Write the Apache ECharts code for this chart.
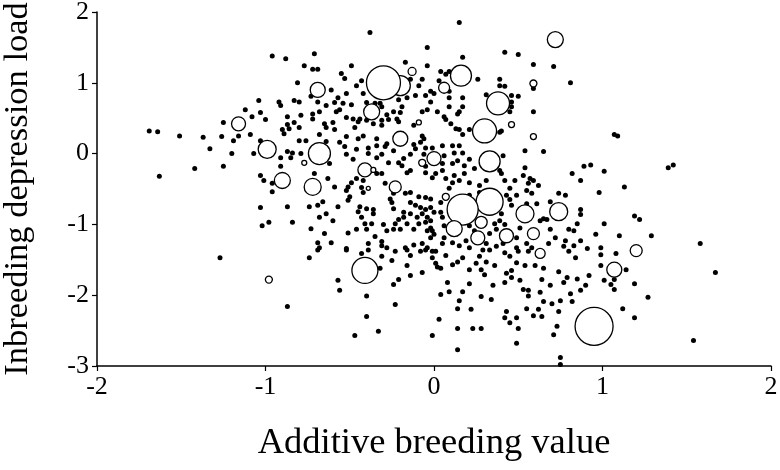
<!DOCTYPE html>
<html>
<head>
<meta charset="utf-8">
<title>Inbreeding depression load vs additive breeding value</title>
<script src="https://cdn.jsdelivr.net/npm/echarts@6/dist/echarts.min.js"></script>
<style>
  html, body { margin: 0; padding: 0; background: #fff; }
  #chart { width: 780px; height: 470px; }
</style>
</head>
<body>
<div id="chart"></div>
<script>
// individual animals: [additive breeding value, inbreeding depression load]
const dotPoints = [
  [-1.04,0.75],[-1.12,0.62],[-1.03,0.58],[-1.08,0.52],[-1.25,0.44],[-1.00,0.48],[-1.69,0.32],[-1.64,0.31],
  [-1.51,0.25],[-1.37,0.23],[-1.26,0.24],[-1.16,0.25],[-1.09,0.27],[-1.19,0.18],[-1.03,0.18],[-1.33,0.07],
  [-1.20,0.00],[-1.07,0.00],[-1.42,-0.21],[-1.25,-0.18],[-1.63,-0.32],[-1.03,-0.31],[-1.01,-0.38],[-1.03,-0.76],
  [-1.02,-1.02],[-1.27,-1.47],
  [-0.38,1.71],[-0.96,1.38],[-0.88,1.34],[-0.71,1.41],[-0.04,1.50],[-0.77,1.24],[-0.72,1.19],[-0.69,1.19],
  [-0.49,1.24],[-0.17,1.29],[-0.04,1.24],[-0.55,1.13],[-0.53,1.06],[-0.81,1.00],[-0.46,0.96],[-0.43,1.03],
  [-0.61,0.90],[-0.52,0.85],[-0.57,0.79],[-0.59,0.72],[-0.54,0.71],[-0.49,0.69],[-0.42,0.85],[-0.40,0.72],
  [-0.35,0.71],[-0.32,0.71],[-0.31,0.66],[-0.92,0.73],[-0.91,0.68],[-0.83,0.75],[-0.80,0.73],[-0.73,0.81],
  [-0.69,0.73],[-0.64,0.68],[-0.58,0.59],[-0.56,0.62],[-0.68,0.59],[-0.72,0.56],[-0.79,0.54],[-0.87,0.52],
  [-0.83,0.44],[-0.87,0.41],[-0.72,0.49],[-0.65,0.42],[-0.60,0.44],[-0.52,0.51],[-0.48,0.49],[-0.44,0.49],
  [-0.40,0.47],[-0.36,0.42],[-0.31,0.47],[-0.28,0.55],[-0.24,0.59],[-0.27,0.48],[-0.22,0.49],[-0.20,0.58],
  [-0.19,0.66],[-0.21,0.76],[-0.16,0.79],[-0.11,0.82],[-0.07,0.59],[-0.04,0.62],[-0.05,0.82],[-0.02,0.88],
  [0.00,0.85],[-0.02,0.73],[-0.14,1.05],[-0.09,0.96],[-0.07,1.05],[-0.90,0.34],[-0.86,0.35],[-0.80,0.37],
  [-0.64,0.37],[-0.59,0.34],[-0.47,0.37],[-0.45,0.45],[-0.31,0.40],[-0.21,0.45],[-0.12,0.40],
  [0.15,1.85],[0.17,1.36],[0.42,1.43],[0.50,1.40],[0.59,1.26],[0.71,1.23],[0.81,1.00],[0.26,1.05],
  [0.39,1.05],[0.39,0.96],[0.42,0.95],[0.31,0.83],[0.46,0.82],[0.50,0.81],[0.46,0.73],[0.46,0.66],
  [0.45,0.59],[0.59,0.59],[0.59,0.92],[0.04,1.16],[0.07,1.12],[0.09,1.16],[0.03,1.03],[0.09,0.88],
  [0.09,0.79],[0.17,0.79],[0.09,0.66],[0.17,0.66],[0.15,0.59],[0.14,0.56],[0.02,0.59],[0.06,0.52],
  [0.07,0.48],[0.10,0.42],[0.13,0.35],[0.15,0.34],[0.21,0.34],[0.40,0.32],
  [-0.89,0.28],[-0.68,0.27],[-0.52,0.24],[-0.45,0.21],[-0.42,0.25],[-0.34,0.21],[-0.28,0.14],[-0.80,0.18],
  [-0.76,0.18],[-0.64,0.17],[-0.56,0.16],[-0.53,0.10],[-0.46,0.06],[-0.39,0.08],[-0.34,0.11],[-0.29,0.10],
  [-0.24,0.04],[-0.12,0.13],[-0.08,0.16],[-0.07,0.25],[-0.06,0.21],[-0.05,0.08],[-0.11,0.07],[-0.14,-0.01],
  [-0.06,-0.01],[-0.01,0.08],[-0.87,0.03],[-0.84,0.01],[-0.79,0.00],[-0.85,-0.06],[-0.91,-0.06],[-0.91,-0.18],
  [-0.62,-0.14],[-0.52,-0.01],[-0.48,-0.08],[-0.39,0.00],[-0.34,-0.06],[-0.31,-0.01],[-0.27,-0.13],[-0.21,-0.13],
  [-0.18,-0.07],[-0.19,-0.17],[-0.16,-0.27],[-0.14,-0.24],[-0.05,-0.18],[-0.05,-0.27],[-0.01,-0.34],[0.01,-0.28],
  [-0.71,-0.28],[-0.63,-0.35],[-0.59,-0.47],[-0.96,-0.42],[-0.96,-0.54],[-0.49,-0.41],[-0.51,-0.47],[-0.52,-0.52],
  [-0.50,-0.61],[-0.51,-0.66],[-0.46,-0.35],[-0.43,-0.48],[-0.42,-0.55],[-0.42,-0.38],[-0.34,-0.28],[-0.31,-0.28],
  [-0.29,-0.42],[-0.24,-0.56],[-0.26,-0.64],[-0.25,-0.69],[-0.24,-0.78],[-0.17,-0.56],[-0.14,-0.55],[-0.09,-0.61],
  [-0.05,-0.62],[-0.02,-0.64],[-0.14,-0.69],[-0.11,-0.73],[-0.08,-0.76],[-0.05,-0.79],[-0.02,-0.76],[0.00,-0.83],
  [-0.66,-0.68],[-0.69,-0.73],[-0.74,-0.75],[-0.87,-0.75],[-0.57,-0.75],[-0.44,-0.75],[-0.45,-0.82],[-0.43,-0.90],
  [-0.40,-0.78],[-0.36,-0.79],[-0.36,-0.85],[-0.41,-0.99],[-0.37,-0.99],[-0.30,-1.00],[-0.28,-1.09],[-0.24,-1.07],
  [-0.23,-0.99],[-0.21,-0.93],[-0.18,-0.90],[-0.18,-0.83],[-0.14,-0.85],[-0.10,-0.90],[-0.07,-0.85],[-0.04,-0.90],
  [-0.02,-0.95],[-0.05,-0.97],[-0.02,-1.05],[-0.01,-1.09],[-0.09,-0.99],[-0.16,-0.99],[-0.20,-1.07],[-0.12,-1.07],
  [-0.68,-0.90],[-0.64,-0.85],[-0.60,-0.95],[-0.84,-0.97],[-0.98,-0.97],[-0.73,-1.06],[-0.51,-1.12],[-0.46,-1.07],
  [-0.40,-1.07],[-0.35,-1.17],[-0.31,-1.24],[-0.65,-1.13],[-0.61,-1.26],[-0.69,-1.26],[-0.68,-1.33],[-0.52,-1.34],
  [-0.39,-1.27],[-0.31,-1.30],[-0.28,-1.33],[-0.17,-1.33],[-0.12,-1.29],[-0.07,-1.27],[-0.04,-1.33],[-0.02,-1.19],
  [0.00,-1.14],[-0.04,-1.09],
  [0.05,0.11],[0.11,0.11],[0.15,0.11],[0.17,0.27],[0.39,0.30],[0.54,0.04],[0.65,0.03],[0.06,-0.03],
  [0.12,0.01],[0.17,0.01],[0.14,-0.10],[0.21,-0.08],[0.41,-0.03],[0.05,-0.14],[0.05,-0.24],[0.11,-0.14],
  [0.18,-0.17],[0.24,-0.21],[0.18,-0.28],[0.12,-0.31],[0.11,-0.41],[0.07,-0.35],[0.15,-0.38],[0.09,-0.49],
  [0.21,-0.41],[0.27,-0.45],[0.31,-0.38],[0.39,-0.24],[0.40,-0.28],[0.42,-0.38],[0.45,-0.49],[0.48,-0.38],
  [0.54,-0.20],[0.53,-0.31],[0.57,-0.35],[0.56,-0.42],[0.59,-0.38],[0.62,-0.45],[0.55,-0.52],[0.58,-0.56],
  [0.49,-0.59],[0.45,-0.65],[0.46,-0.73],[0.55,-0.71],[0.61,-0.71],[0.69,-0.68],[0.74,-0.56],[0.78,-0.59],
  [0.82,-0.28],[0.87,-0.38],[0.89,-0.18],[0.93,-0.16],[1.01,-0.25],[0.98,-0.55],[0.87,-0.79],[0.87,-0.86],
  [0.85,-0.99],[1.01,-0.99],[0.96,-1.14],[0.80,-1.07],[0.83,-1.09],[0.69,-1.07],[0.72,-1.19],[0.78,-1.23],
  [0.87,-1.23],[0.83,-1.30],[0.68,-1.27],[0.77,-1.31],[0.91,-1.34],[0.99,-1.33],[0.65,-0.92],[0.67,-0.93],
  [0.63,-0.95],[0.51,-1.05],[0.49,-1.19],[0.39,-0.95],[0.42,-1.00],[0.36,-0.99],[0.37,-1.07],[0.33,-1.13],
  [0.31,-1.27],[0.37,-1.31],[0.41,-1.27],[0.49,-1.33],[0.55,-1.27],[0.58,-1.33],[0.21,-1.02],[0.24,-1.09],
  [0.19,-1.23],[0.21,-1.33],[0.06,-1.02],[0.06,-1.19],[0.05,-1.27],[0.11,-1.26],[0.15,-1.30],[0.04,-0.83],
  [0.05,-0.90],[0.40,-0.85],[0.39,-0.76],[0.43,-0.59],[0.04,-0.69],[0.21,-0.59],[0.27,-0.55],
  [1.07,0.27],[1.09,0.25],[1.39,-0.20],[1.42,-0.16],[1.13,-0.47],[1.19,-0.88],[1.22,-0.93],[1.10,-1.16],
  [1.29,-1.16],[1.58,-1.27],
  [-0.74,-1.47],[-0.69,-1.36],[-0.52,-1.36],[-0.43,-1.41],[-0.39,-1.36],[-0.31,-1.45],[-0.25,-1.51],[-0.23,-1.38],
  [-0.16,-1.36],[-0.14,-1.44],[-0.16,-1.58],[-0.08,-1.38],[-0.05,-1.36],[-0.01,-1.38],[0.01,-1.38],[-0.01,-1.47],
  [0.01,-1.55],[0.02,-1.60],[-0.07,-1.68],[-0.14,-1.72],[-0.21,-1.78],[-0.24,-1.85],[-0.32,-1.62],[-0.57,-1.79],
  [-0.56,-1.93],[-0.40,-2.01],[-0.23,-2.13],[-0.87,-2.16],[-0.40,-2.30],[-0.33,-2.51],[-0.47,-2.57],[-0.01,-2.57],
  [0.07,-1.44],[0.11,-1.57],[0.14,-1.53],[0.17,-1.47],[0.04,-1.62],[0.27,-1.45],[0.29,-1.36],[0.33,-1.36],
  [0.31,-1.53],[0.25,-1.55],[0.21,-1.64],[0.28,-1.64],[0.30,-1.71],[0.36,-1.58],[0.42,-1.40],[0.45,-1.45],
  [0.50,-1.38],[0.56,-1.38],[0.49,-1.54],[0.54,-1.58],[0.60,-1.58],[0.65,-1.62],[0.80,-1.38],[0.84,-1.47],
  [0.99,-1.43],[0.99,-1.58],[1.01,-1.79],[0.92,-1.72],[0.90,-1.86],[0.87,-1.93],[0.85,-1.77],[0.79,-1.75],
  [0.77,-1.82],[0.74,-1.67],[0.69,-1.86],[0.64,-1.78],[0.63,-1.96],[0.56,-1.93],[0.53,-1.92],[0.56,-2.01],
  [0.51,-1.79],[0.46,-1.75],[0.43,-1.69],[0.42,-1.82],[0.46,-1.65],[0.35,-1.86],[0.28,-2.02],[0.34,-2.06],
  [0.21,-1.84],[0.17,-1.95],[0.08,-1.82],[0.09,-1.95],[0.04,-1.99],[0.15,-2.08],[0.14,-2.19],[0.22,-2.20],
  [0.65,-2.09],[0.62,-2.20],[0.55,-2.19],[0.70,-2.12],[0.75,-2.08],[0.82,-2.09],[0.81,-1.98],[0.74,-2.23],
  [0.59,-2.29],[0.64,-2.30],[0.43,-2.23],[0.42,-2.32],[0.45,-2.39],[0.49,-2.32],[0.50,-2.47],[0.03,-2.34],
  [0.14,-2.47],[0.23,-2.47],[0.28,-2.47],[0.73,-2.44],[0.71,-2.56],[0.49,-2.68],[0.14,-2.77],[0.75,-2.88],
  [0.75,-2.98],
  [1.08,-1.41],[1.14,-1.64],[1.07,-1.78],[1.05,-1.85],[1.07,-1.92],[1.19,-1.84],[1.27,-2.03],[1.12,-2.19],
  [1.19,-2.32],[1.67,-1.68],[1.54,-2.64]
];

// open circles: [breeding value, depression load, weight]
const circlePoints = [
  [-0.20,0.96,10],[-0.30,1.00,17],
  [-1.16,0.42,7],[-0.99,0.06,9],[-0.98,-1.78,3.5],[-0.90,-0.38,8],[-0.72,-0.47,8.5],[-0.68,0.00,11],
  [-0.77,-0.13,2.5],[-0.69,0.90,7.5],[-0.37,0.59,8],[-0.13,1.16,4],[-0.09,0.44,2.5],[-0.20,0.21,7.5],
  [-0.41,-0.23,7],[-0.36,-0.23,2.5],[-0.39,-0.49,2],[-0.23,-0.47,6],[-0.07,-0.13,3.5],[0.00,-0.07,7],
  [-0.41,-1.65,13],[0.72,1.61,8],[0.16,1.10,10.5],[0.06,0.93,5.5],[0.59,0.99,3.5],[0.38,0.71,11.5],
  [0.46,0.41,3],[0.30,0.32,12],[0.59,0.24,3],[0.33,-0.11,10.5],[0.33,-0.68,13.5],[0.17,-0.79,15.5],
  [0.07,-0.61,3.5],[0.54,-0.85,9],[0.74,-0.82,9],[0.28,-0.97,6],[0.12,-1.06,8],[0.26,-1.19,7],
  [0.43,-1.16,7],[0.59,-1.13,6],[0.63,-1.41,5],[1.20,-1.37,6],[1.07,-1.64,7.5],[0.95,-2.44,19]
];

const xName = 'Additive breeding value';
const yName = 'Inbreeding depression load';

const FONT = '"Liberation Serif", "Times New Roman", serif';

const chart = echarts.init(document.getElementById('chart'), null, { renderer: 'canvas' });

const axisCommon = {
  type: 'value',
  interval: 1,
  nameLocation: 'middle',
  axisLine: { show: true, onZero: false, lineStyle: { color: '#000', width: 1.5 } },
  axisTick: { show: true, inside: false, length: 5, lineStyle: { color: '#000', width: 1.2 } },
  axisLabel: {
    color: '#000', fontSize: 26, fontFamily: FONT, margin: 8,
    // plain hyphen like the original, not the unicode minus
    formatter: (v) => String(v).replace('\u2212', '-')
  },
  splitLine: { show: false }
};

chart.setOption({
  backgroundColor: '#fff',
  animation: false,
  // v6 would otherwise shrink the grid to keep the long y name inside
  grid: { left: 97, right: 9, top: 12, bottom: 104, containLabel: false, outerBoundsMode: 'none' },
  xAxis: Object.assign({}, axisCommon, {
    min: -2, max: 2,
    name: xName,
    nameGap: 59,
    nameTextStyle: { color: '#000', fontSize: 36.5, fontFamily: FONT }
  }),
  yAxis: Object.assign({}, axisCommon, {
    min: -3, max: 2,
    name: yName,
    nameGap: 62,
    nameTextStyle: { color: '#000', fontSize: 34.5, fontFamily: FONT }
  }),
  series: [
    {
      name: 'animals',
      type: 'scatter',
      data: dotPoints,
      symbol: 'circle',
      symbolSize: 5,
      itemStyle: { color: '#000', opacity: 1 },
      z: 2
    },
    {
      name: 'sires',
      type: 'scatter',
      data: circlePoints,
      symbol: 'circle',
      symbolSize: (v) => v[2] * 2,
      itemStyle: { color: '#fff', borderColor: '#000', borderWidth: 1.3, opacity: 1 },
      z: 3
    }
  ]
});
</script>
</body>
</html>
